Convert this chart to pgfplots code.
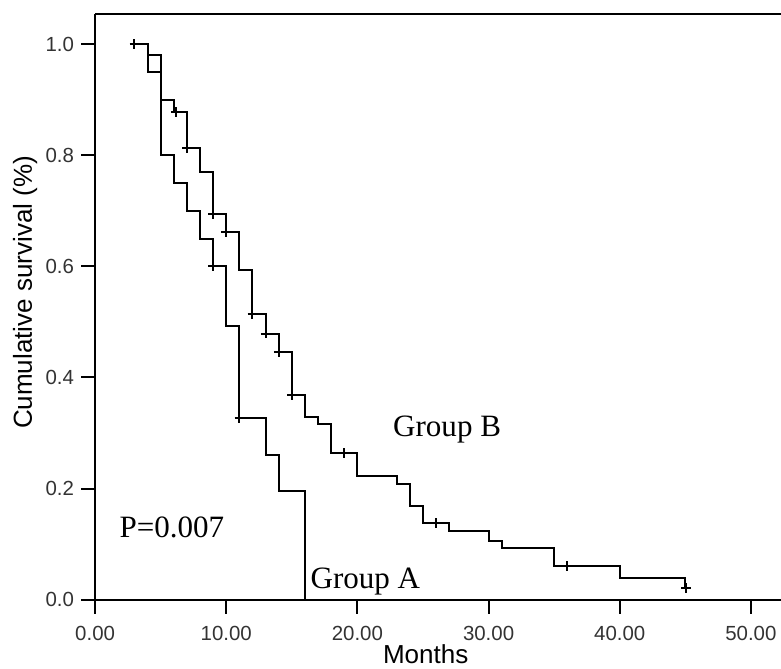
\documentclass[border=0pt]{standalone}
\usepackage{fontspec}
\setmainfont{Liberation Sans}
\newfontfamily\serif{Liberation Serif}
\usepackage{pgfplots}
\pgfplotsset{compat=1.18}

\begin{document}
\begin{tikzpicture}
\begin{axis}[
    scale only axis,
    width=342.5pt, height=292.5pt,
    xmin=0, xmax=52.3,
    ymin=0, ymax=1.054,
    axis x line=box, axis y line=left,
    axis line style={line width=1pt, -},
    xtick={0,10,20,30,40,50},
    ytick={0,0.2,0.4,0.6,0.8,1.0},
    tick align=outside,
    major tick length=7pt,
    every tick/.style={black, line width=1pt},
    xtick pos=bottom, ytick pos=left,
    /pgf/number format/assume math mode=true,
    xticklabel style={yshift=-2.5pt, /pgf/number format/.cd, fixed, fixed zerofill, precision=2},
    yticklabel style={/pgf/number format/.cd, fixed, fixed zerofill, precision=1},
    ticklabel style={font=\fontsize{10.2pt}{12pt}\selectfont, text=black!80},
    xlabel={Months},
    ylabel={Cumulative survival (\%)},
    label style={font=\fontsize{13pt}{15pt}\selectfont},
    x label style={at={(axis description cs:0.482,0)}, anchor=center, yshift=-27pt},
    y label style={at={(axis description cs:-0.102,0.525)}, anchor=center},
    clip=false,
]
% Group A
\addplot[const plot, black, line width=1pt] coordinates {
    (3,1.0) (4,0.95) (5,0.80) (6,0.75) (7,0.70) (8,0.65) (9,0.60)
    (10,0.492) (11,0.327) (13,0.261) (14,0.196) (16,0.0) };
% Group B
\addplot[const plot, black, line width=1pt] coordinates {
    (3,1.0) (4,0.981) (5,0.899) (6,0.878) (7,0.813) (8,0.770) (9,0.694)
    (10,0.661) (11,0.594) (12,0.514) (13,0.479) (14,0.445) (15,0.368)
    (16,0.328) (17,0.316) (18,0.264) (20,0.222) (23,0.208) (24,0.168)
    (25,0.138) (27,0.124) (30,0.106) (31,0.093) (35,0.061) (40,0.040)
    (45,0.021) };
% censored
\addplot[only marks, mark=+, mark size=2.4pt, black, line width=1pt] coordinates {
    (9,0.60) (11,0.327) };
\addplot[only marks, mark=+, mark size=2.4pt, black, line width=1pt] coordinates {
    (3,1.0) (6.15,0.878) (7,0.813) (9,0.694) (10,0.661) (12,0.514) (13,0.479)
    (14,0.445) (15,0.368) (19,0.264) (26,0.138) (36,0.061) (45.05,0.021) };
\node[anchor=base west, font=\serif\fontsize{15.5pt}{17pt}\selectfont, inner sep=0pt] at (axis cs:22.7,0.294) {Group B};
\node[anchor=base west, font=\serif\fontsize{15.5pt}{17pt}\selectfont, inner sep=0pt] at (axis cs:16.4,0.020) {Group A};
\node[anchor=base west, font=\serif\fontsize{15.5pt}{17pt}\selectfont, inner sep=0pt] at (axis cs:1.83,0.112) {P=0.007};
\coordinate (ll) at (rel axis cs:0,0);
\coordinate (ur) at (rel axis cs:1,1);
\end{axis}
\pgfresetboundingbox
\path[use as bounding box] ([xshift=-47.5pt,yshift=-34.5pt]ll) rectangle ([yshift=7pt]ur);
\end{tikzpicture}
\end{document}
